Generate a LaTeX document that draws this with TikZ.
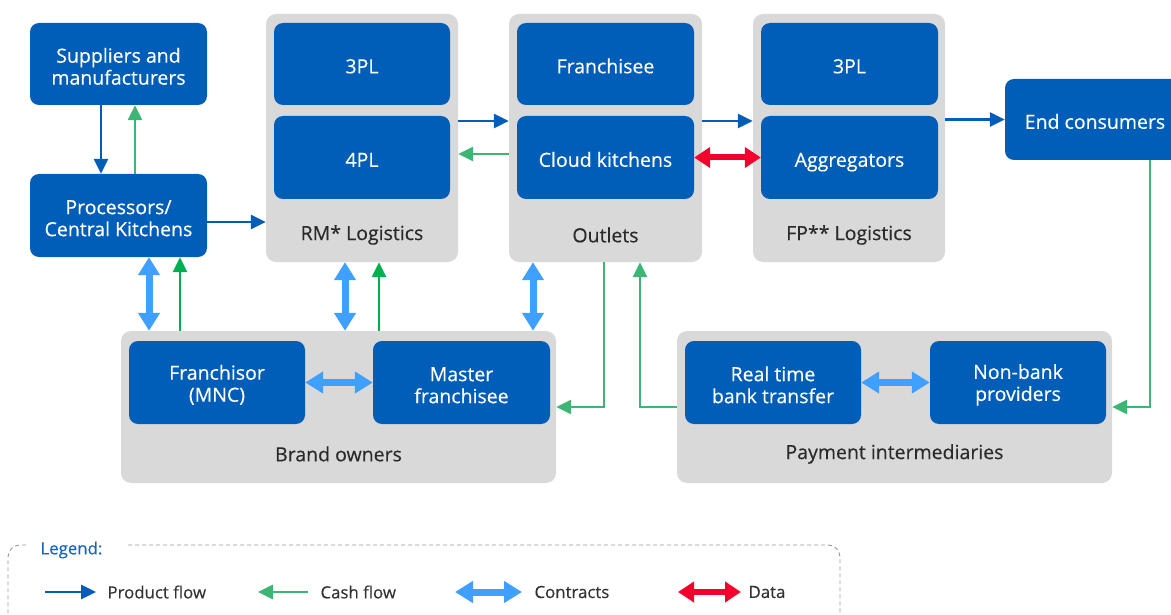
\documentclass[tikz,border=0pt]{standalone}
\usepackage{fontspec}
\setmainfont{Open Sans}[FakeBold=0.35]
\usetikzlibrary{arrows.meta,calc}
\definecolor{dblue}{HTML}{005DB8}
\definecolor{pgrey}{HTML}{D9D9D9}
\definecolor{cgreen}{HTML}{3CB575}
\definecolor{cgreenb}{HTML}{00B050}
\definecolor{cblue}{HTML}{40A0FF}
\definecolor{dred}{HTML}{F5002D}
\definecolor{labtext}{HTML}{2A2A2A}
\definecolor{legblue}{HTML}{1A62C0}
\definecolor{legtxt}{HTML}{333333}
\newcommand{\tallstrut}{\rule{0pt}{19.5pt}}
\begin{document}
\begin{tikzpicture}[x=1pt,y=-1pt,
  boxbase/.style={fill=dblue, rounded corners=9pt, text=white, align=center, minimum width=176pt, minimum height=82pt, inner sep=0pt, font=\fontsize{19.5}{22}\selectfont},
  box/.style={boxbase, execute at begin node={\rule{0pt}{25.6pt}}, execute at end node={\rule[-7pt]{0pt}{7pt}}},
  boxm/.style={boxbase},
  panel/.style={fill=pgrey, rounded corners=10pt, inner sep=0pt},
  lbl/.style={text=labtext, font=\fontsize{19.5}{22}\selectfont},
  prod/.style={draw=dblue, line width=2.8pt, -{Triangle[length=15pt,width=14pt]}},
  cash/.style={draw=cgreen, line width=2.8pt, -{Triangle[length=15pt,width=14pt]}},
  cashb/.style={draw=cgreenb, line width=2.8pt, -{Triangle[length=15pt,width=14pt]}},
  contract/.style={draw=cblue, line width=7pt, {Triangle[length=18pt,width=21pt]}-{Triangle[length=18pt,width=21pt]}},
  data/.style={draw=dred, line width=6pt, {Triangle[length=16pt,width=20pt]}-{Triangle[length=16pt,width=20pt]}},
  legline/.style={draw=gray!80, line width=0.9pt, dash pattern=on 4pt off 3pt, rounded corners=12pt},
  legtext/.style={text=legtxt, anchor=west, font=\fontsize{16.8}{19}\selectfont},
]
\useasboundingbox (0,0) rectangle (1171,615);

% panels
\node[panel, minimum width=192pt, minimum height=248pt] (rmp) at (362,138) {};
\node[panel, minimum width=193pt, minimum height=248pt] (outp) at (605.5,138) {};
\node[panel, minimum width=192pt, minimum height=248pt] (fpp) at (849,138) {};
\node[panel, minimum width=435pt, minimum height=152pt] (brandp) at (338.5,407) {};
\node[panel, minimum width=435pt, minimum height=152pt] (payp) at (894.5,407) {};

% boxes
\node[boxm, minimum width=177pt] (sup) at (118.5,64) {\tallstrut Suppliers and\\manufacturers};
\node[boxm, minimum width=177pt, minimum height=83pt] (proc) at (118.5,215.5) {\tallstrut Processors/\\Central Kitchens};
\node[box] (rm3) at (362,64) {3PL};
\node[box, minimum height=83pt] (rm4) at (362,157.5) {4PL};
\node[box, minimum width=177pt] (fr) at (605.5,64) {Franchisee};
\node[box, minimum width=177pt, minimum height=83pt] (ck) at (605.5,157.5) {Cloud kitchens};
\node[box, minimum width=177pt] (fp3) at (849.5,64) {3PL};
\node[box, minimum width=177pt, minimum height=83pt] (agg) at (849.5,157.5) {Aggregators};
\node[box, minimum width=180pt, minimum height=81pt] (end) at (1095,119.5) {End consumers};
\node[boxm, minimum height=83pt] (fso) at (217,382.5) {\tallstrut Franchisor\\(MNC)};
\node[boxm, minimum width=177pt, minimum height=83pt] (mf) at (461.5,382.5) {\tallstrut Master\\franchisee};
\node[boxm, minimum height=83pt] (rt) at (773,382.5) {\tallstrut Real time\\bank transfer};
\node[boxm, minimum height=83pt] (nb) at (1018,382.5) {\tallstrut Non-bank\\providers};

% panel labels
\node[lbl] (rml) at (362,235) {RM* Logistics};
\node[lbl] (outl) at (605.5,235) {Outlets};
\node[lbl] (fpl) at (849,235) {FP** Logistics};
\node[lbl] (brl) at (338.5,454) {Brand owners};
\node[lbl] (payl) at (894.5,454) {Payment intermediaries};

% supplier <-> processor
\draw[prod] ([xshift=-17.5pt]sup.south) -- ([xshift=-17.5pt]proc.north);
\draw[cash] ([xshift=16.5pt]proc.north) -- ([xshift=16.5pt]sup.south);
\coordinate (pe) at ($(proc.east)+(0,6.5)$);
\draw[prod] (pe) -- (pe -| rmp.west);

% top row flows
\draw[prod] ($(rmp.east)+(0,-17)$) -- ($(outp.west)+(0,-17)$);
\draw[cash] ($(outp.west)+(0,16)$) -- ($(rmp.east)+(0,16)$);
\draw[prod] ($(outp.east)+(0,-17)$) -- ($(fpp.west)+(0,-17)$);
\draw[data] (ck.east) -- (agg.west);
\draw[prod] (fpp.east |- end) -- (end.west);
\coordinate (ec) at ($(end.south)+(55,0)$);
\draw[cash] (ec) |- (payp.east);

% vertical links to brand owners
\coordinate (c1) at ($(proc.south)+(30.5,0)$);
\draw[contract] (c1) -- (c1 |- brandp.north);
\coordinate (g1) at ($(proc.south)+(61.5,0)$);
\draw[cashb] (g1 |- brandp.north) -- (g1);
\coordinate (c2) at ($(rmp.south)+(-17,0)$);
\draw[contract] (c2) -- (c2 |- brandp.north);
\coordinate (g2) at ($(rmp.south)+(17,0)$);
\draw[cashb] (g2 |- brandp.north) -- (g2);
\coordinate (c3) at ($(outp.south)+(-72.5,0)$);
\draw[contract] (c3) -- (c3 |- brandp.north);
\coordinate (g3) at ($(outp.south)+(-1.5,0)$);
\draw[cash] (g3) |- (brandp.east);
\coordinate (g4) at ($(outp.south)+(34.5,0)$);
\draw[cash] (payp.west) -| (g4);

% within bottom panels
\draw[contract] (fso.east) -- (mf.west);
\draw[contract] (rt.east) -- (nb.west);

% legend
\draw[legline] (128,545) -- (840,545) -- (840,630);
\draw[legline] (26,545) -- (8,545) -- (8,630);
\node[text=legblue, anchor=west, font=\fontsize{16.8}{19}\selectfont] (legt) at (37,550) {Legend:};
\coordinate (lp1) at (45,592); \coordinate (lp2) at (96,592);
\draw[prod] (lp1) -- (lp2);
\node[legtext] (lpt) at (104,592) {Product flow};
\coordinate (lc1) at (308,592); \coordinate (lc2) at (258,592);
\draw[cash] (lc1) -- (lc2);
\node[legtext] (lct) at (317,592) {Cash flow};
\coordinate (lk1) at (455,592); \coordinate (lk2) at (522,592);
\draw[contract] (lk1) -- (lk2);
\node[legtext] (lkt) at (531,592) {Contracts};
\coordinate (ld1) at (678,592); \coordinate (ld2) at (741,592);
\draw[data] (ld1) -- (ld2);
\node[legtext] (ldt) at (745,592) {Data};
\end{tikzpicture}
\end{document}
